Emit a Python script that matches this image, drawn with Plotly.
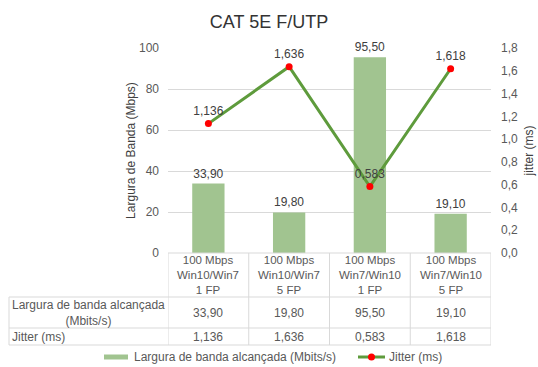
import plotly.graph_objects as go

# Test scenarios (shown as table column headers)
scenarios = [
    "100 Mbps<br>Win10/Win7<br>1 FP",
    "100 Mbps<br>Win10/Win7<br>5 FP",
    "100 Mbps<br>Win7/Win10<br>1 FP",
    "100 Mbps<br>Win7/Win10<br>5 FP",
]
bandwidth = [33.90, 19.80, 95.50, 19.10]   # Mbits/s
jitter = [1.136, 1.636, 0.583, 1.618]      # ms

bw_name = "Largura de banda alcançada (Mbits/s)"
jit_name = "Jitter (ms)"
row_labels = ["Largura de banda alcançada<br>(Mbits/s)", "Jitter (ms)"]

W, H = 538, 367
ML, MR, MT, MB = 168, 47, 48, 114
plot_h = H - MT - MB
plot_w = W - ML - MR


def py(pix):
    """pixel row -> paper y"""
    return (H - MB - pix) / plot_h


def px(pix):
    """pixel column -> paper x"""
    return (pix - ML) / plot_w


FONT = "Arial, Liberation Sans, sans-serif"
TXT = "#595959"
GRID = "#D9D9D9"
BAR_C = "#A1C490"
LINE_C = "#5E9B3C"
DOT_C = "#FF0000"

xs = list(range(len(scenarios)))

fig = go.Figure()
fig.add_trace(go.Bar(
    x=xs, y=bandwidth, name=bw_name, width=0.4,
    marker=dict(color=BAR_C, line=dict(width=0)),
    texttemplate="%{y:.2f}", textposition="outside",
    textfont=dict(size=12, color="#404040", family=FONT),
    cliponaxis=False, showlegend=False,
))
fig.add_trace(go.Scatter(
    x=xs, y=jitter, name=jit_name, yaxis="y2",
    mode="lines+markers+text",
    line=dict(color=LINE_C, width=3),
    marker=dict(color=DOT_C, size=7),
    texttemplate="%{y:.3f}", textposition="top center",
    textfont=dict(size=12, color="#404040", family=FONT),
    cliponaxis=False, showlegend=False,
))

# Data table under the plot
y_top = py(253)
y_h1 = py(297)
y_h2 = py(328)
y_h3 = py(345)
x_left = px(9)

shapes = []
line_style = dict(color=GRID, width=1)
for b in [i - 0.5 for i in range(len(scenarios) + 1)]:
    shapes.append(dict(type="line", xref="x", yref="paper",
                       x0=b, x1=b, y0=y_top, y1=y_h3, line=line_style))
shapes.append(dict(type="line", xref="paper", yref="paper",
                   x0=x_left, x1=x_left, y0=y_h1, y1=y_h3, line=line_style))
shapes.append(dict(type="line", xref="paper", yref="paper",
                   x0=0, x1=1, y0=y_top, y1=y_top, line=line_style))
for yy in [y_h1, y_h2, y_h3]:
    shapes.append(dict(type="line", xref="paper", yref="paper",
                       x0=x_left, x1=1, y0=yy, y1=yy, line=line_style))

annotations = []
head_font = dict(size=11.5, color=TXT, family=FONT)
cell_font = dict(size=12, color=TXT, family=FONT)
for i, s in enumerate(scenarios):
    annotations.append(dict(x=i, y=(y_top + y_h1) / 2, xref="x", yref="paper",
                            text=s, showarrow=False, font=head_font,
                            align="center", yanchor="middle"))
    annotations.append(dict(x=i, y=(y_h1 + y_h2) / 2, xref="x", yref="paper",
                            text=f"{bandwidth[i]:.2f}".replace(".", ","),
                            showarrow=False, font=cell_font, yanchor="middle"))
    annotations.append(dict(x=i, y=(y_h2 + y_h3) / 2, xref="x", yref="paper",
                            text=f"{jitter[i]:.3f}".replace(".", ","),
                            showarrow=False, font=cell_font, yanchor="middle"))
annotations.append(dict(x=px(10), y=(y_h1 + y_h2) / 2, xref="paper", yref="paper",
                        text=row_labels[0], showarrow=False, font=cell_font,
                        xanchor="left", align="center", yanchor="middle"))
annotations.append(dict(x=px(10), y=(y_h2 + y_h3) / 2, xref="paper", yref="paper",
                        text=row_labels[1], showarrow=False, font=cell_font,
                        xanchor="left", yanchor="middle"))

# Legend row at the bottom: wide bar swatch and line-with-dot key
leg_y = 357
shapes.append(dict(type="rect", xref="paper", yref="paper",
                   x0=px(104), x1=px(128), y0=py(leg_y + 2.5), y1=py(leg_y - 2.5),
                   fillcolor=BAR_C, line=dict(width=0)))
shapes.append(dict(type="line", xref="paper", yref="paper",
                   x0=px(358), x1=px(385), y0=py(leg_y), y1=py(leg_y),
                   line=dict(color=LINE_C, width=3)))
shapes.append(dict(type="circle", xref="paper", yref="paper",
                   x0=px(368), x1=px(375), y0=py(leg_y + 3.5), y1=py(leg_y - 3.5),
                   fillcolor=DOT_C, line=dict(width=0)))
annotations.append(dict(x=px(132), y=py(leg_y), xref="paper", yref="paper",
                        text=bw_name, showarrow=False, font=cell_font,
                        xanchor="left", yanchor="middle"))
annotations.append(dict(x=px(387), y=py(leg_y), xref="paper", yref="paper",
                        text=jit_name, showarrow=False, font=cell_font,
                        xanchor="left", yanchor="middle"))

fig.update_layout(
    width=W, height=H, autosize=False,
    margin=dict(l=ML, r=MR, t=MT, b=MB),
    paper_bgcolor="white", plot_bgcolor="white",
    separators=",.",
    font=dict(family=FONT, size=11, color=TXT),
    title=dict(text="CAT 5E F/UTP", x=0.5, xref="container", xanchor="center",
               y=1 - 22 / H, yref="container", yanchor="middle",
               font=dict(size=18, color="#333333", family=FONT)),
    xaxis=dict(range=[-0.5, 3.5], showticklabels=False, showgrid=False,
               zeroline=False, showline=False, ticks=""),
    yaxis=dict(range=[0, 100], dtick=20, showgrid=True, gridcolor=GRID,
               zeroline=False, showline=False, ticks="", ticklabelstandoff=8,
               automargin=False, tickfont=dict(size=12, color=TXT),
               title=dict(text="Largura de Banda (Mbps)",
                          font=dict(size=12, color="#404040"), standoff=0)),
    yaxis2=dict(range=[0, 1.8], dtick=0.2, tickformat=".1f", overlaying="y",
                side="right", showgrid=False, zeroline=False, showline=False,
                ticks="", ticklabelstandoff=9, automargin=False,
                tickfont=dict(size=12, color=TXT),
                title=dict(text="jitter (ms)", font=dict(size=12, color="#404040"),
                           standoff=7)),
    shapes=shapes,
    annotations=annotations,
    showlegend=False,
)

fig.write_html("out.html")
